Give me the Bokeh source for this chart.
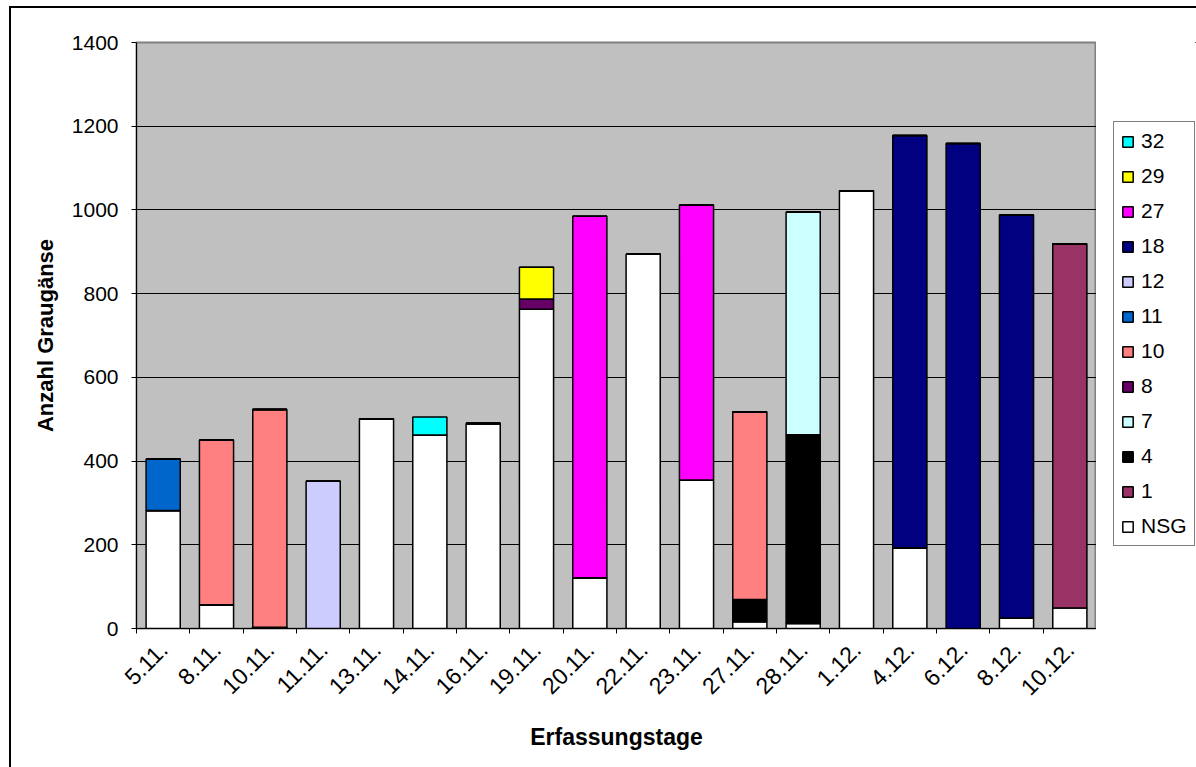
from bokeh.plotting import figure
from bokeh.layouts import row
from bokeh.models import ColumnDataSource, FixedTicker, Legend, LegendItem, Range1d
from bokeh.embed import file_html
from bokeh.resources import INLINE
import math

categories = ["5.11.", "8.11.", "10.11.", "11.11.", "13.11.", "14.11.", "16.11.",
              "19.11.", "20.11.", "22.11.", "23.11.", "27.11.", "28.11.", "1.12.",
              "4.12.", "6.12.", "8.12.", "10.12."]

NSG = [282, 57, 3, 0, 501, 462, 490, 763, 121, 894, 355, 16, 12, 1046, 193, 0, 25, 49]
s1  = [0, 0, 0, 0, 0, 0, 0, 0, 0, 0, 0, 0, 0, 0, 0, 0, 0, 870]
s4  = [0, 0, 0, 0, 0, 0, 0, 0, 0, 0, 0, 53, 451, 0, 0, 0, 0, 0]
s7  = [0, 0, 0, 0, 0, 0, 0, 0, 0, 0, 0, 0, 532, 0, 0, 0, 0, 0]
s8  = [0, 0, 0, 0, 0, 0, 0, 24, 0, 0, 0, 0, 0, 0, 0, 0, 0, 0]
s10 = [0, 393, 520, 0, 0, 0, 0, 0, 0, 0, 0, 449, 0, 0, 0, 0, 0, 0]
s11 = [123, 0, 0, 0, 0, 0, 0, 0, 0, 0, 0, 0, 0, 0, 0, 0, 0, 0]
s12 = [0, 0, 0, 352, 0, 0, 0, 0, 0, 0, 0, 0, 0, 0, 0, 0, 0, 0]
s18 = [0, 0, 0, 0, 0, 0, 0, 0, 0, 0, 0, 0, 0, 0, 985, 1159, 963, 0]
s27 = [0, 0, 0, 0, 0, 0, 0, 0, 864, 0, 657, 0, 0, 0, 0, 0, 0, 0]
s29 = [0, 0, 0, 0, 0, 0, 0, 76, 0, 0, 0, 0, 0, 0, 0, 0, 0, 0]
s32 = [0, 0, 0, 0, 0, 43, 0, 0, 0, 0, 0, 0, 0, 0, 0, 0, 0, 0]

series_names = ["NSG", "1", "4", "7", "8", "10", "11", "12", "18", "27", "29", "32"]
series_values = [NSG, s1, s4, s7, s8, s10, s11, s12, s18, s27, s29, s32]
series_colors = ["#FFFFFF", "#993366", "#000000", "#CCFFFF", "#660066", "#FF8080",
                 "#0066CC", "#CCCCFF", "#000080", "#FF00FF", "#FFFF00", "#00FFFF"]

y_ticks = [0, 200, 400, 600, 800, 1000, 1200, 1400]

FONT = "Liberation Sans"

data = {"x": [i + 0.5 for i in range(len(categories))]}
keys = []
for name, vals in zip(series_names, series_values):
    k = "s_" + name
    keys.append(k)
    data[k] = vals
source = ColumnDataSource(data)

# main chart: canvas starts at (11, 8) in the window (margin + outer border)
p = figure(width=1085, height=759, output_backend="svg", toolbar_location=None,
           x_range=Range1d(0, len(categories)), y_range=Range1d(0, 1400),
           min_border_left=125, min_border_right=0, min_border_top=34,
           min_border_bottom=139)
p.background_fill_color = "#C0C0C0"
p.border_fill_color = "white"
p.outline_line_color = "#808080"
p.outline_line_width = 2

renderers = p.vbar_stack(keys, x="x", width=0.64, color=series_colors,
                         line_color="black", line_width=1.5, source=source)

p.xgrid.grid_line_color = None
p.ygrid.grid_line_color = "black"
p.ygrid.grid_line_width = 1
p.yaxis.ticker = FixedTicker(ticks=y_ticks)
p.yaxis.minor_tick_line_color = None
p.yaxis.major_tick_out = 5
p.yaxis.major_tick_in = 0
p.yaxis.axis_line_color = "black"
p.yaxis.major_tick_line_color = "black"
p.yaxis.major_label_standoff = 13
p.yaxis.major_label_text_font = FONT
p.yaxis.major_label_text_font_size = "21px"
p.yaxis.major_label_text_color = "black"
p.yaxis.axis_label = "Anzahl Graugänse"
p.yaxis.axis_label_text_font = FONT
p.yaxis.axis_label_text_font_style = "bold"
p.yaxis.axis_label_text_font_size = "22px"
p.yaxis.axis_label_text_color = "black"
p.yaxis.axis_label_standoff = 11

centers = [i + 0.5 for i in range(len(categories))]
p.xaxis.ticker = FixedTicker(ticks=centers, minor_ticks=list(range(len(categories) + 1)))
p.xaxis.major_label_overrides = {c: lab for c, lab in zip(centers, categories)}
p.xaxis.major_tick_out = 0
p.xaxis.major_tick_in = 0
p.xaxis.minor_tick_out = 5
p.xaxis.minor_tick_in = 0
p.xaxis.minor_tick_line_color = "black"
p.xaxis.axis_line_color = "black"
p.xaxis.major_label_orientation = math.pi / 4
p.xaxis.major_label_standoff = 12
p.xaxis.major_label_text_font = FONT
p.xaxis.major_label_text_font_size = "23px"
p.xaxis.major_label_text_color = "black"
p.xaxis.axis_label = "Erfassungstage"
p.xaxis.axis_label_text_font = FONT
p.xaxis.axis_label_text_font_style = "bold"
p.xaxis.axis_label_text_font_size = "23px"
p.xaxis.axis_label_text_color = "black"
p.xaxis.axis_label_standoff = 18

# legend panel to the right of the plot frame (its frame is aligned with p's)
q = figure(width=100, height=759, output_backend="svg", toolbar_location=None,
           x_axis_location=None, y_axis_location=None,
           x_range=Range1d(0, 1), y_range=Range1d(0, 1), min_border=0)
q.grid.visible = False
q.outline_line_color = None
q.background_fill_color = "white"
q.border_fill_color = "white"
swatches = []
for c in series_colors:
    # legend swatch renderer; its single point lies outside the visible range
    r = q.vbar(x=[5], top=[5], bottom=[4], width=0.5, fill_color=c,
               line_color="black", line_width=1.5)
    swatches.append(r)

items = [LegendItem(label=n, renderers=[r]) for n, r in zip(series_names, swatches)]
legend = Legend(items=list(reversed(items)), location=(17, 82))
legend.border_line_color = "black"
legend.border_line_width = 1
legend.background_fill_color = "white"
legend.background_fill_alpha = 1
legend.label_text_font = FONT
legend.label_text_font_size = "21px"
legend.label_text_color = "black"
legend.glyph_width = 13
legend.glyph_height = 13
legend.label_height = 21
legend.spacing = 11
legend.padding = 7
legend.label_standoff = 7
legend.margin = 0
q.add_layout(legend, "center")

layout = row(p, q)
layout.margin = (6, 0, 0, 9)
layout.styles = {"border-left": "2px solid black", "border-top": "2px solid black"}

open("out.html", "w").write(file_html(layout, INLINE))
